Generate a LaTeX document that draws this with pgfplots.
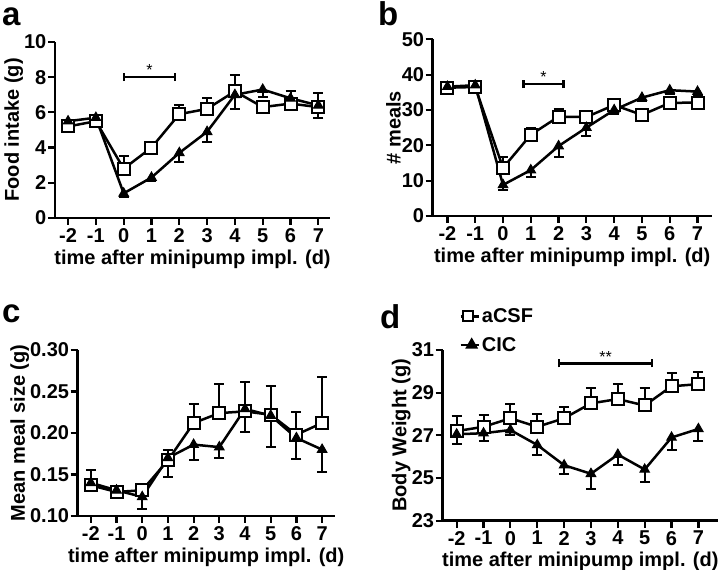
\documentclass[border=0pt]{standalone}
\usepackage{pgfplots}
\pgfplotsset{compat=1.18}
\usepackage{pgfplotstable}
\usepackage{fontspec}
\setmainfont{Liberation Sans}
\newcommand{\lf}{\fontsize{20}{22}\selectfont\bfseries}

% aCSF: error bars drawn upward; CIC: error bars drawn downward
\pgfplotstableread{
x y e
-2 5.2 0.2
-1 5.5 0.2
0 2.8 0.7
1 4.0 0.2
2 5.9 0.5
3 6.2 0.6
4 7.2 0.9
5 6.3 0.3
6 6.5 0.7
7 6.3 0.8
}\aA
\pgfplotstableread{
x y e
-2 5.5 0.2
-1 5.7 0.2
0 1.4 0.2
1 2.3 0.2
2 3.7 0.5
3 4.9 0.6
4 7.0 0.8
5 7.3 0.4
6 6.8 0.4
7 6.4 0.7
}\aC
\pgfplotstableread{
x y e
-2 36.3 1
-1 36.5 1
0 13.6 3
1 23 2
2 28.1 2.2
3 28 1.5
4 31.4 1
5 28.6 1
6 32 1.5
7 32.1 1.5
}\bA
\pgfplotstableread{
x y e
-2 36.6 1
-1 37 1
0 8.8 1.4
1 13 1.9
2 19.8 3
3 25 2.3
4 30 1
5 33.5 1
6 35.6 1
7 35.2 1
}\bC
\pgfplotstableread{
x y e
-2 0.137 0.019
-1 0.129 0.005
0 0.131 0.006
1 0.167 0.012
2 0.212 0.023
3 0.224 0.035
4 0.226 0.035
5 0.222 0.035
6 0.198 0.027
7 0.212 0.056
}\cA
\pgfplotstableread{
x y e
-2 0.140 0.005
-1 0.131 0.004
0 0.123 0.014
1 0.170 0.023
2 0.186 0.018
3 0.183 0.013
4 0.229 0.028
5 0.221 0.038
6 0.194 0.025
7 0.180 0.027
}\cC
\pgfplotstableread{
x y e
-2 27.2 0.7
-1 27.4 0.55
0 27.8 0.65
1 27.4 0.6
2 27.8 0.55
3 28.5 0.7
4 28.7 0.7
5 28.4 0.8
6 29.3 0.6
7 29.4 0.55
}\dA
\pgfplotstableread{
x y e
-2 27.05 0.45
-1 27.1 0.35
0 27.25 0.25
1 26.55 0.45
2 25.6 0.4
3 25.2 0.7
4 26.1 0.5
5 25.4 0.6
6 26.9 0.6
7 27.3 0.55
}\dC

\pgfplotsset{
  gp/.style={
    scale only axis,
    axis x line=bottom, axis y line=left,
    axis line style={-, line width=2.5pt},
    every tick/.style={line width=2.2pt, black},
    tick align=outside,
    major tick length=7pt,
    xtick={-2,...,7},
    tick label style={font=\lf},
    yticklabel style={inner xsep=1.5pt},
    label style={font=\lf},
    /pgf/number format/assume math mode=true,
    xlabel={time after minipump impl. (d)},
    ylabel shift=-4pt,
    clip=false,
  },
  acsf/.style={black, line width=2.5pt, mark=square*,
    mark options={fill=white, line width=2pt, solid}, mark size=6pt,
    error bars/.cd, y dir=plus, y explicit,
    error bar style={line width=2pt},
    error mark options={rotate=90, mark size=5pt, line width=2pt}},
  cic/.style={black, line width=2.5pt, mark=triangle*,
    mark options={fill=black, line width=1pt, solid}, mark size=5.5pt,
    error bars/.cd, y dir=minus, y explicit,
    error bar style={line width=2pt},
    error mark options={rotate=90, mark size=5pt, line width=2pt}},
}
\newcommand{\sig}[4]{%
  \draw[line width=2.2pt] (axis cs:#1,#3) -- (axis cs:#2,#3);
  \draw[line width=2.2pt] ([yshift=-4pt]axis cs:#1,#3) -- ([yshift=4pt]axis cs:#1,#3);
  \draw[line width=2.2pt] ([yshift=-4pt]axis cs:#2,#3) -- ([yshift=4pt]axis cs:#2,#3);
  \node[anchor=south, inner sep=1pt, font=\fontsize{16}{16}\selectfont] at (axis cs:{(#1+#2)/2},#3) {#4};}

\begin{document}
\begin{tikzpicture}[x=1pt,y=1pt]
\useasboundingbox (0,0) rectangle (720,570);
\node[anchor=base west, inner sep=0pt, font=\fontsize{33}{33}\selectfont\bfseries] at (2,544) {a};
\node[anchor=base west, inner sep=0pt, font=\fontsize{33}{33}\selectfont\bfseries] at (378,544) {b};
\node[anchor=base west, inner sep=0pt, font=\fontsize{33}{33}\selectfont\bfseries] at (2,247) {c};
\node[anchor=base west, inner sep=0pt, font=\fontsize{33}{33}\selectfont\bfseries] at (380,241) {d};

% panel a
\begin{axis}[gp, at={(55pt,352pt)}, anchor=south west, width=275pt, height=176pt,
  xmin=-2.47, xmax=7.42, ymin=0, ymax=10, ytick={0,2,...,10},
  ylabel={Food intake (g)}]
\addplot[acsf] table[x=x,y=y,y error=e] {\aA};
\addplot[cic] table[x=x,y=y,y error=e] {\aC};
\sig{0}{1.85}{8}{*}
\end{axis}

% panel b
\begin{axis}[gp, at={(432.7pt,354pt)}, anchor=south west, width=279pt, height=176.7pt,
  xmin=-2.53, xmax=7.51, ymin=0, ymax=50, ytick={0,10,...,50},
  ylabel={\# meals}]
\addplot[acsf] table[x=x,y=y,y error=e] {\bA};
\addplot[cic] table[x=x,y=y,y error=e] {\bC};
\sig{0.74}{2.18}{37.3}{*}
\end{axis}

% panel c
\begin{axis}[gp, at={(77.7pt,54pt)}, anchor=south west, width=257pt, height=166pt,
  xmin=-2.51, xmax=7.49, ymin=0.10, ymax=0.30, ytick={0.10,0.15,...,0.31},
  yticklabel style={/pgf/number format/.cd, fixed, fixed zerofill, precision=2},
  ylabel={Mean meal size (g)}]
\addplot[acsf] table[x=x,y=y,y error=e] {\cA};
\addplot[cic] table[x=x,y=y,y error=e] {\cC};
\end{axis}

% panel d
\begin{axis}[gp, at={(442.7pt,49.3pt)}, anchor=south west, width=275.3pt, height=170.7pt,
  xmin=-2.52, xmax=7.73, ymin=23, ymax=31, ytick={23,25,...,31},
  ylabel={Body Weight (g)},
  legend style={at={(0.06,1.255)}, anchor=north west, draw=none, fill=none,
    font=\lf, row sep=9pt, inner sep=0pt,
    /tikz/every even column/.append style={column sep=2pt}},
  legend cell align=left]
\addplot[forget plot, acsf] table[x=x,y=y,y error=e] {\dA};
\addplot[forget plot, cic] table[x=x,y=y,y error=e] {\dC};
\addlegendimage{black, line width=2.5pt, mark=square*, mark options={fill=white, line width=2pt, solid}, mark size=5pt,
  legend image code/.code={\draw[mark repeat=2, mark phase=2] plot coordinates {(0pt,0pt) (7pt,0pt) (18pt,0pt)};}}
\addlegendentry{aCSF}
\addlegendimage{black, line width=2.5pt, mark=triangle*, mark options={fill=black, solid}, mark size=5pt,
  legend image code/.code={\draw[mark repeat=2, mark phase=2] plot coordinates {(0pt,0pt) (11pt,0pt) (18pt,0pt)};}}
\addlegendentry{CIC}
\sig{1.82}{5.27}{30.37}{**}
\end{axis}
\end{tikzpicture}
\end{document}
